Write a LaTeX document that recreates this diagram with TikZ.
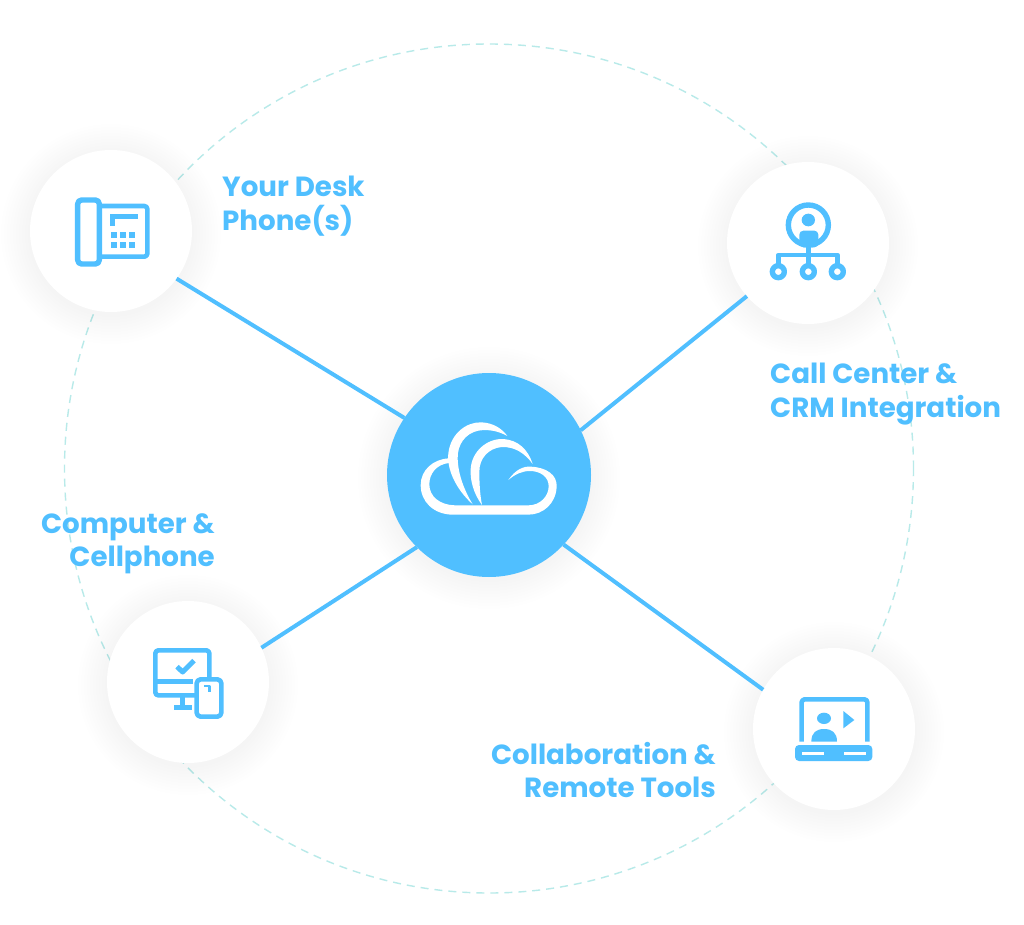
\documentclass[tikz,border=0pt]{standalone}
\usepackage{fontspec}
\setmainfont{Poppins}
\definecolor{sky}{HTML}{50BFFF}
\definecolor{ringc}{HTML}{B8EAE9}
\tikzset{
  hubnode/.style={circle,fill=sky,minimum size=204pt,inner sep=0pt,outer sep=0pt},
  satnode/.style={circle,fill=white,minimum size=162pt,inner sep=0pt,outer sep=0pt},
  ringnode/.style={circle,draw=ringc,line width=1.4pt,dash pattern=on 8pt off 6pt,minimum size=849pt,inner sep=0pt,outer sep=0pt},
  spoke/.style={draw=sky,line width=4pt},
  lbl/.style={text=sky,font=\fontsize{27.7}{33.5}\selectfont\bfseries,inner sep=0pt},
  lblL/.style={lbl,anchor=north west,align=left},
  lblR/.style={lbl,anchor=north east,align=right},
  icon/.style={draw=sky,line width=4.6pt,line join=round,fill=none},
  softshade/.style={fill=black,fill opacity=.002,draw=none},
  zoomed/.style={shift={#1},scale=1/3}
}
\begin{document}
\begin{tikzpicture}[x=1pt,y=-1pt]
\useasboundingbox (0,0) rectangle (1024,925);
\fill[white] (0,0) rectangle (1024,925);
\node[ringnode] (ring) at (489,468.5) {};
% soft shadows
\foreach \cx/\cy/\cr in {111/231/81,808/243/81,188/682/81,834/729/81,489/475/102}{
  \foreach \k in {2,5,...,29}{
    \path[softshade] ({\cx},{\cy+3}) circle[radius={(\cr+\k)*1pt}];
  }
}
\node[satnode] (phone) at (111,231) {};
\node[satnode] (crm) at (808,243) {};
\node[satnode] (comp) at (188,682) {};
\node[satnode] (lap) at (834,729) {};
\node[hubnode] (hub) at (489,475) {};
% connectors
\path[spoke] (phone.324.4) -- (hub.146.2);
\path[spoke] (crm.221.5) -- (hub.26);
\path[spoke] (comp.25.9) -- (hub.225.4);
\path[spoke] (lap.151.8) -- (hub.317.7);
% hub cloud
\begin{scope}[zoomed={(380,365)}]
\fill[white] (385,345) .. controls (405,315) and (430,303) .. (452,305)
  .. controls (500,307) and (532,330) .. (530,365)
  .. controls (528,415) and (490,449) .. (445,449)
  -- (215,449) .. controls (160,447) and (122,410) .. (122,360)
  .. controls (122,315) and (160,282) .. (207,280)
  -- (207,294) .. controls (170,298) and (148,325) .. (148,358)
  .. controls (148,395) and (180,420) .. (225,421)
  -- (445,421) .. controls (480,421) and (505,395) .. (506,365)
  .. controls (507,335) and (480,318) .. (450,318)
  .. controls (425,318) and (405,328) .. (385,345) -- cycle;
\fill[white] (278,418) .. controls (225,370) and (200,310) .. (205,265)
  .. controls (212,205) and (260,170) .. (305,172)
  .. controls (340,174) and (365,190) .. (382,213)
  .. controls (355,198) and (325,192) .. (295,197)
  .. controls (255,205) and (232,240) .. (233,280)
  .. controls (234,330) and (255,380) .. (278,418) -- cycle;
\fill[white] (306,420) .. controls (280,385) and (270,345) .. (272,312)
  .. controls (275,260) and (320,220) .. (370,222)
  .. controls (415,225) and (445,255) .. (458,297)
  .. controls (435,265) and (405,245) .. (365,246)
  .. controls (325,250) and (298,280) .. (298,320)
  .. controls (298,355) and (300,390) .. (306,420) -- cycle;
\end{scope}
% desk phone icon
\begin{scope}[zoomed={(20,140)}]
\draw[icon,line width=5.4pt,rounded corners=4pt] (173,180) rectangle (238,372);
\draw[icon,rounded corners=3pt] (238,198) -- (382,198) -- (382,350) -- (238,350);
\fill[sky] (270,223) rectangle (355,238);
\fill[sky] (270,223) rectangle (284,258);
\foreach \x in {272,299,326}{\foreach \y in {276,306}{\fill[sky] (\x,\y) rectangle ++(18,19);}}
\end{scope}
% crm icon
\begin{scope}[zoomed={(720,160)}]
\draw[icon,line width=5.4pt] (265,195) circle[radius=60pt];
\fill[sky] (265,180) ellipse[x radius=20pt,y radius=19pt];
\fill[sky,rounded corners=4pt] (238,262) -- (238,212) -- (295,212) -- (295,262) -- cycle;
\draw[icon] (265,255) -- (265,312);
\draw[icon] (175,312) -- (175,285) -- (352,285) -- (352,312);
\foreach \x in {175,265,352}{\draw[icon,line width=5.4pt,fill=white] (\x,335) circle[radius=18pt];}
\end{scope}
% computer + tablet icon
\begin{scope}[zoomed={(100,600)}]
\draw[icon,line width=4.6pt,rounded corners=3pt] (285,286) -- (166,286) -- (166,151) -- (328,151) -- (328,232);
\draw[icon,line width=4.6pt] (166,245) -- (278,245);
\draw[icon,line width=4.6pt] (248,288) -- (248,322) (222,322) -- (275,322);
\draw[icon,line width=5pt] (231,200) -- (248,216) -- (282,182);
\draw[icon,line width=4.6pt,rounded corners=4pt] (290,238) rectangle (364,350);
\draw[icon,line width=2.4pt] (312,258) -- (328,258) -- (328,275);
\end{scope}
% laptop icon
\begin{scope}[zoomed={(745,645)}]
\draw[icon,line width=4.6pt,rounded corners=3pt] (170,290) -- (170,163) -- (367,163) -- (367,290);
\fill[sky] (237,220) ellipse[x radius=21pt,y radius=17pt];
\fill[sky] (199,290) .. controls (199,262) and (215,252) .. (237,252) .. controls (260,252) and (276,262) .. (276,290) -- cycle;
\fill[sky] (295,198) -- (328,225) -- (295,250) -- cycle;
\fill[sky,rounded corners=4pt] (150,300) -- (382,300) -- (382,348) -- (150,348) -- cycle;
\fill[white] (170,322) rectangle (236,330);
\fill[white] (298,322) rectangle (362,330);
\end{scope}
% labels
\node[lblL] (l1) at (222,176) {Your Desk\\Phone(s)};
\node[lblL] (l2) at (770,363) {Call Center \&\\CRM Integration};
\node[lblR] (l3) at (215,513) {Computer \&\\Cellphone};
\node[lblR] (l4) at (716,742) {Collaboration \&\\Remote Tools};
\end{tikzpicture}
\end{document}
